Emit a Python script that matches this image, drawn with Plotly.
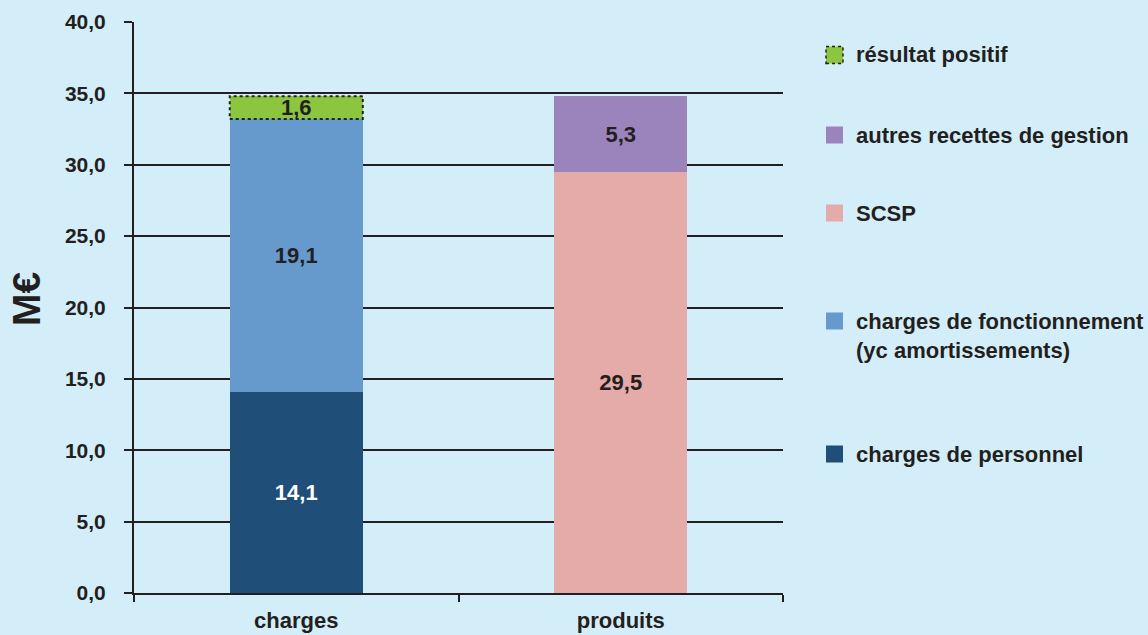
import plotly.graph_objects as go

# Budget data (M€)
categories = ["charges", "produits"]
personnel = [14.1, None]
fonctionnement = [19.1, None]
resultat = [1.6, None]
scsp = [None, 29.5]
autres = [None, 5.3]

series_names = [
    "résultat positif",
    "autres recettes de gestion",
    "SCSP",
    "charges de fonctionnement<br>(yc amortissements)",
    "charges de personnel",
]

BG = "#d3eef9"
INK = "#231f20"
FONT = "Liberation Sans, Arial, sans-serif"
C_PERS = "#1f4e79"
C_FONC = "#6699cc"
C_RES = "#8cc63f"
C_SCSP = "#e5aba8"
C_AUT = "#9b84bb"
BAR_W = 0.41
FS = 22


def fmt(v):
    return "" if v is None else f"{v:.1f}".replace(".", ",")


def bar(vals, color, txtcolor=INK):
    return go.Bar(
        x=categories, y=vals, marker=dict(color=color, line=dict(width=0)),
        width=BAR_W, text=[fmt(v) for v in vals], textposition="inside",
        insidetextanchor="middle", constraintext="none",
        textfont=dict(family=FONT, size=FS, color=txtcolor, weight="bold"),
        hoverinfo="skip", showlegend=False,
    )


fig = go.Figure()
fig.add_trace(bar(personnel, C_PERS, "white"))
fig.add_trace(bar(fonctionnement, C_FONC))
fig.add_trace(bar(resultat, C_RES))
fig.add_trace(bar(scsp, C_SCSP))
fig.add_trace(bar(autres, C_AUT))

# dotted outline around the "résultat positif" segment
base = personnel[0] + fonctionnement[0]
fig.add_shape(type="rect", xref="x", yref="y",
              x0=0 - BAR_W / 2, x1=0 + BAR_W / 2, y0=base, y1=base + resultat[0],
              line=dict(color=INK, width=2, dash="dot"), fillcolor="rgba(0,0,0,0)")

# Hand-placed legend on the right
legend_colors = [C_RES, C_AUT, C_SCSP, C_FONC, C_PERS]
legend_y = [55, 135, 213, 321, 454]        # swatch centre, pixels from top
plot_left, plot_w = 134, 649
plot_top, plot_bottom = 22, 593
for name, col, py in zip(series_names, legend_colors, legend_y):
    yc = (plot_bottom - py) / (plot_bottom - plot_top)
    h = 8.5 / (plot_bottom - plot_top)
    fig.add_shape(type="rect", xref="paper", yref="paper",
                  x0=(826 - plot_left) / plot_w, x1=(843 - plot_left) / plot_w,
                  y0=yc - h, y1=yc + h, fillcolor=col,
                  line=dict(color=INK, width=1.5, dash="dot") if col == C_RES else dict(width=0))
    two_lines = "<br>" in name
    fig.add_annotation(xref="paper", yref="paper", x=(854 - plot_left) / plot_w, y=yc,
                       xanchor="left", yanchor="top" if two_lines else "middle",
                       yshift=14 if two_lines else 0,
                       text=name, showarrow=False, align="left",
                       font=dict(family=FONT, size=FS, color=INK, weight="bold"))

# vertical unit label
fig.add_annotation(xref="paper", yref="paper",
                   x=(26 - plot_left) / plot_w, y=(plot_bottom - 299) / (plot_bottom - plot_top),
                   text="M€", textangle=-90, showarrow=False,
                   xanchor="center", yanchor="middle",
                   font=dict(family=FONT, size=39, color=INK, weight="bold"))

fig.update_layout(
    barmode="stack", bargap=0.59,
    width=1148, height=635,
    margin=dict(l=134, r=365, t=22, b=42),
    paper_bgcolor=BG, plot_bgcolor=BG,
    separators=", ",
    showlegend=False,
    font=dict(family=FONT, color=INK),
)
fig.update_xaxes(
    automargin=False,
    showline=True, linecolor=INK, linewidth=2,
    ticks="outside", tickson="boundaries", ticklen=7, tickcolor=INK, tickwidth=2,
    ticklabelstandoff=7,
    tickfont=dict(family=FONT, size=FS, color=INK, weight="bold"),
    showgrid=False,
)
fig.update_yaxes(
    automargin=False,
    range=[0, 40], dtick=5, tickformat=".1f",
    showline=True, linecolor=INK, linewidth=2,
    ticks="outside", ticklen=8, tickcolor=INK, tickwidth=2,
    ticklabelstandoff=14,
    showgrid=True, gridcolor=INK, gridwidth=2, zeroline=False,
    tickfont=dict(family=FONT, size=FS - 1, color=INK, weight="bold"),
)

fig.write_html("out.html")
